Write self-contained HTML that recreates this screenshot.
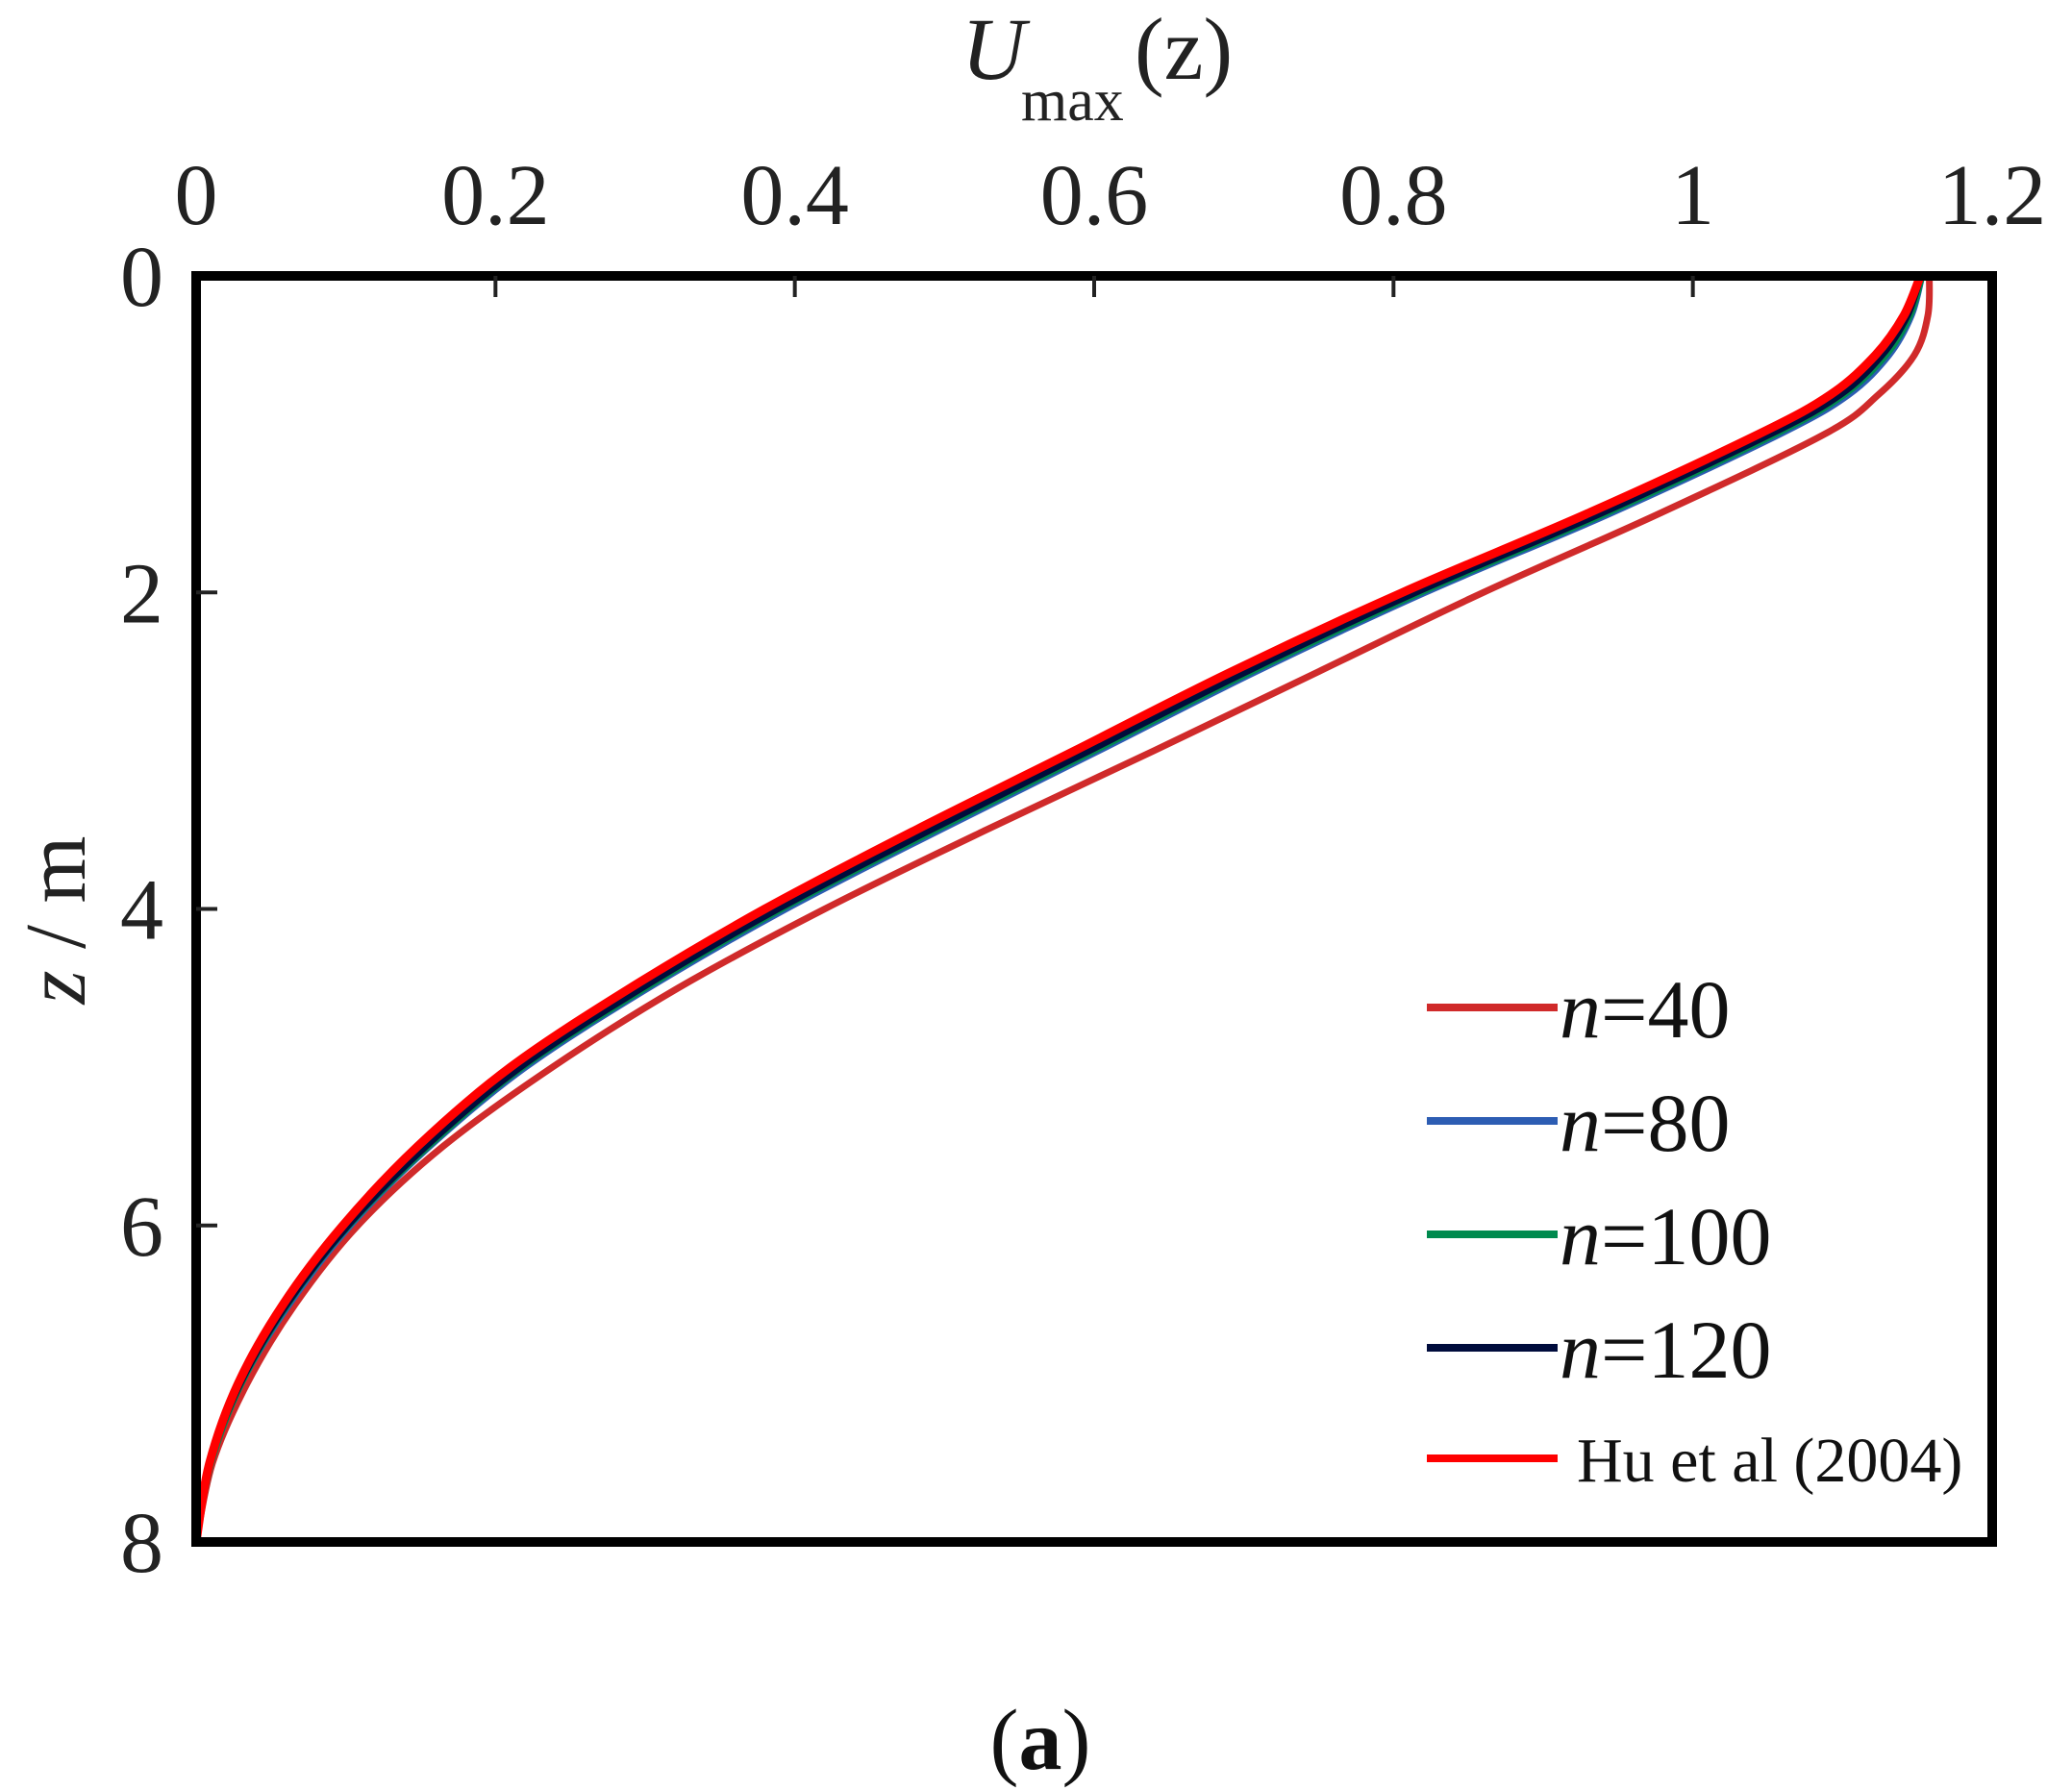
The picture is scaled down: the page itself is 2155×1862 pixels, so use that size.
<!DOCTYPE html>
<html><head><meta charset="utf-8"><style>
html,body{margin:0;padding:0;background:#fff;}
svg{display:block;font-family:"Liberation Serif",serif;}
</style></head><body>
<svg id="chart" width="2155" height="1862" viewBox="0 0 2155 1862" xmlns="http://www.w3.org/2000/svg">
<g id="curves"></g>
<rect x="204" y="287" width="1868" height="1317" fill="none" stroke="#000" stroke-width="10"/>
<g id="ticks"></g>
<text y="82" font-size="92" fill="#222"><tspan x="1000" font-style="italic">U</tspan><tspan x="1062" y="125" font-size="62">max</tspan><tspan x="1180" y="82">(z)</tspan></text>
<text transform="translate(88,957) rotate(-90)" text-anchor="middle" font-size="90" fill="#222"><tspan font-style="italic">z</tspan> / m</text>
<text x="1082" y="1840" text-anchor="middle" font-size="90" fill="#111">(<tspan font-weight="bold">a</tspan>)</text>
<g id="legend"></g>
</svg>
<script>
const zVals = [0,0.25,0.5,0.75,1,1.5,2,2.5,3,3.5,4,4.5,5,5.5,6,6.5,7,7.5,8];
const uN40  = [1.158,1.157,1.148,1.124,1.088,0.978,0.860,0.750,0.640,0.528,0.420,0.322,0.238,0.165,0.108,0.066,0.034,0.011,0.000];
const uN80  = [1.153,1.146,1.131,1.104,1.058,0.945,0.821,0.708,0.603,0.497,0.394,0.302,0.220,0.156,0.103,0.062,0.030,0.010,0.000];
const uN100 = [1.153,1.145,1.129,1.101,1.055,0.942,0.818,0.705,0.600,0.494,0.391,0.300,0.218,0.155,0.102,0.061,0.030,0.010,0.000];
const uN120 = [1.152,1.143,1.126,1.098,1.051,0.938,0.814,0.701,0.596,0.490,0.388,0.297,0.216,0.153,0.101,0.060,0.029,0.009,0.000];
const uHu   = [1.152,1.141,1.122,1.092,1.044,0.930,0.806,0.692,0.587,0.481,0.380,0.290,0.210,0.148,0.098,0.058,0.028,0.009,0.000];
const xTicks = [0,0.2,0.4,0.6,0.8,1,1.2];
const xTickLabels = ["0","0.2","0.4","0.6","0.8","1","1.2"];
const yTicks = [0,2,4,6,8];
const yTickLabels = ["0","2","4","6","8"];
const legendLabels = ["n=40","n=80","n=100","n=120","Hu et al (2004)"];

const NS="http://www.w3.org/2000/svg";
const X0=204,X1=2072,Y0=287,Y1=1604;
function sx(v){return X0+(v/1.2)*(X1-X0);}
function sy(z){return Y0+(z/8)*(Y1-Y0);}
function mk(tag,attrs,parent){const e=document.createElementNS(NS,tag);for(const k in attrs)e.setAttribute(k,attrs[k]);parent.appendChild(e);return e;}
function pathFor(us){
  const p=us.map((u,i)=>[sx(u),sy(zVals[i])]);
  let d="M"+p[0][0].toFixed(1)+","+p[0][1].toFixed(1);
  for(let i=0;i<p.length-1;i++){
    const a=p[Math.max(i-1,0)],b=p[i],c=p[i+1],e=p[Math.min(i+2,p.length-1)];
    const c1=[b[0]+(c[0]-a[0])/6,b[1]+(c[1]-a[1])/6],c2=[c[0]-(e[0]-b[0])/6,c[1]-(e[1]-b[1])/6];
    d+=" C"+c1[0].toFixed(1)+","+c1[1].toFixed(1)+" "+c2[0].toFixed(1)+","+c2[1].toFixed(1)+" "+c[0].toFixed(1)+","+c[1].toFixed(1);
  }
  return d;
}
const series=[
  {u:uN40,c:"#d02a2a",w:7,n:"n40"},
  {u:uN80,c:"#2d5db3",w:7,n:"n80"},
  {u:uN100,c:"#008a4e",w:7,n:"n100"},
  {u:uN120,c:"#000c3c",w:8,n:"n120"},
  {u:uHu,c:"#ff0000",w:9,n:"hu2004"}
];
const cg=document.getElementById("curves");
series.forEach(s=>{
  const el=mk("path",{d:pathFor(s.u),fill:"none",stroke:s.c,"stroke-width":s.w,"stroke-linejoin":"round"},cg);
  
  
});
const tg=document.getElementById("ticks");
xTicks.forEach((v,i)=>{
  if(i>0&&i<xTicks.length-1){
    const t=mk("line",{x1:sx(v),x2:sx(v),y1:Y0,y2:Y0+22,stroke:"#222","stroke-width":4},tg);
    
    
  }
  const l=mk("text",{x:sx(v),y:233,"text-anchor":"middle","font-size":90,fill:"#222"},tg);
  l.textContent=xTickLabels[i];
  
  
});
yTicks.forEach((v,i)=>{
  if(i>0&&i<yTicks.length-1){
    const t=mk("line",{x1:X0,x2:X0+22,y1:sy(v),y2:sy(v),stroke:"#222","stroke-width":4},tg);
    
    
  }
  const l=mk("text",{x:170,y:sy(v)+31,"text-anchor":"end","font-size":90,fill:"#222"},tg);
  l.textContent=yTickLabels[i];
  
  
});
const lg=document.getElementById("legend");
const legY=[1048,1166,1284,1402,1517];
series.forEach((s,i)=>{
  const ln=mk("line",{x1:1484,x2:1620,y1:legY[i],y2:legY[i],stroke:s.c,"stroke-width":8},lg);
  
  
  let t;
  if(i<4){
    t=mk("text",{x:1622,y:legY[i]+31,"font-size":86,fill:"#111"},lg);
    const parts=legendLabels[i].split("=");
    const a=mk("tspan",{"font-style":"italic"},t);a.textContent=parts[0];
    const b=mk("tspan",{},t);b.textContent="="+parts[1];
  }else{
    t=mk("text",{x:1640,y:legY[i]+24,"font-size":66,fill:"#111"},lg);
    t.textContent=legendLabels[i];
  }
  
  
});
</script>
</body></html>
